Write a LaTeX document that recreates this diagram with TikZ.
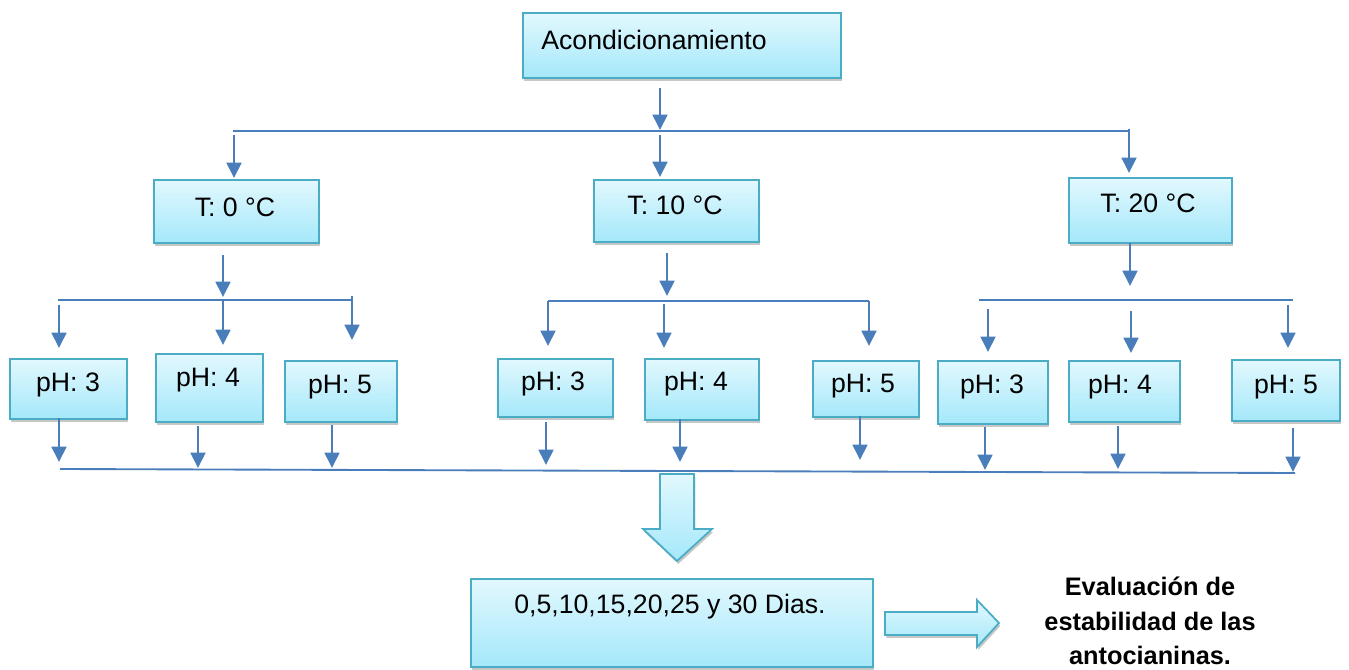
\documentclass[tikz,border=0pt]{standalone}
\usepackage{fontspec}
\setmainfont{Liberation Sans}
\usetikzlibrary{arrows.meta,shadows}
\definecolor{boxtop}{HTML}{E2F8FE}
\definecolor{boxbot}{HTML}{A4E8FA}
\definecolor{boxline}{HTML}{4BACC6}
\definecolor{arrblue}{HTML}{4A7EBB}
\tikzset{
  box/.style={draw=boxline, line width=1.5pt, top color=boxtop, bottom color=boxbot,
    anchor=north west, inner sep=0pt,
    drop shadow={shadow xshift=1pt, shadow yshift=-2.2pt, opacity=0.22, fill=black}},
  txt/.style={font=\fontsize{20}{24}\selectfont, inner sep=0pt, text=black},
  arr/.style={draw=arrblue, line width=2pt, -{Triangle[width=11pt,length=11.5pt]}},
  bus/.style={draw=arrblue, line width=1.4pt},
  bigarr/.style={draw=boxline, line width=1.3pt, top color=boxtop, bottom color=boxbot,
    line join=miter,
    drop shadow={shadow xshift=1pt, shadow yshift=-2.2pt, opacity=0.22, fill=black}},
  evaltxt/.style={font=\fontsize{19}{26}\selectfont\bfseries, align=center, inner sep=0pt}
}
\newcommand\mybx[8]{%
  \node[box, minimum width={(#4-#2)*0.75pt}, minimum height={(#5-#3)*0.75pt}] (#1) at (#2,#3) {};
  \node[txt] (#1t) at (#6,#7) {#8};}
\newcommand\myvarr[4]{%
  \coordinate (#1s) at (#2,#3);
  \coordinate (#1e) at (#2,#4);
  \draw[arr] (#1s) -- (#1e);}
\begin{document}
\begin{tikzpicture}[x=0.75pt,y=-0.75pt]
\fill[white] (0,0) rectangle (1349,670);
\useasboundingbox (0,0) rectangle (1349,670);

% top box
\mybx{A}{522}{12}{840}{77}{654}{40}{Acondicionamiento}
\myvarr{a0}{660}{88}{130}

% top bus
\coordinate (tb1) at (233,131);
\coordinate (tb2) at (1130,131);
\draw[bus] (tb1) -- (tb2);

% temperature boxes
\mybx{T0}{153}{179}{318}{242}{235}{207}{T: 0 °C}
\mybx{T10}{593}{179}{758}{241}{675}{205}{T: 10 °C}
\mybx{T20}{1068}{177}{1231}{242}{1148}{203}{T: 20 °C}

\myvarr{t0}{234}{135}{178}
\myvarr{t10}{660}{135}{177}
\myvarr{t20}{1129}{129}{173}

\myvarr{b0}{223}{255}{297}
\myvarr{b10}{667}{253}{296}
\myvarr{b20}{1130}{243}{286}

% pH buses
\coordinate (lb1) at (58,300); \coordinate (lb2) at (352,300);
\draw[bus] (lb1) -- (lb2);
\coordinate (mb1) at (548,301); \coordinate (mb2) at (869,301);
\draw[bus] (mb1) -- (mb2);
\coordinate (rb1) at (979,300); \coordinate (rb2) at (1293,300);
\draw[bus] (rb1) -- (rb2);

\myvarr{l3}{59}{305}{348}
\myvarr{l4}{223}{300}{345}
\myvarr{l5}{352}{296}{340}
\myvarr{m3}{548}{301}{346}
\myvarr{m4}{664}{304}{348}
\myvarr{m5}{869}{301}{346}
\myvarr{r3}{988}{309}{352}
\myvarr{r4}{1131}{311}{353}
\myvarr{r5}{1288}{305}{348}

% pH boxes
\mybx{L3}{9}{358}{126}{418}{68}{385}{pH: 3}
\mybx{L4}{155}{353}{262}{421}{208}{380}{pH: 4}
\mybx{L5}{284}{360}{396}{421}{340}{387}{pH: 5}
\mybx{M3}{497}{358}{612}{416}{553}{384}{pH: 3}
\mybx{M4}{644}{358}{758}{419}{696}{384}{pH: 4}
\mybx{M5}{812}{360}{918}{416}{863}{386}{pH: 5}
\mybx{R3}{937}{360}{1047}{423}{992}{387}{pH: 3}
\mybx{R4}{1068}{360}{1179}{421}{1120}{387}{pH: 4}
\mybx{R5}{1231}{359}{1339}{420}{1286}{387}{pH: 5}

% arrows down to bottom bus
\myvarr{d1}{59}{418}{462}
\myvarr{d2}{198}{426}{468}
\myvarr{d3}{332}{425}{468}
\myvarr{d4}{546}{422}{465}
\myvarr{d5}{680}{419}{462}
\myvarr{d6}{860}{416}{460}
\myvarr{d7}{985}{427}{470}
\myvarr{d8}{1118}{426}{469}
\myvarr{d9}{1293}{428}{472}

\coordinate (bb1) at (60,469); \coordinate (bb2) at (1295,473);
\draw[bus] (bb1) -- (bb2);

% big down arrow
\path[bigarr] (660,474) -- (694,474) -- (694,529) -- (712,529) -- (677,561)
  -- (643,529) -- (660,529) -- cycle;

% days box
\mybx{D}{470}{578}{872}{666}{670}{607}{0,5,10,15,20,25 y 30 Dias.}

% right arrow
\path[bigarr] (885,612) -- (977,612) -- (977,600) -- (999,623) -- (977,647)
  -- (977,635) -- (885,635) -- cycle;

\node[evaltxt] (ev) at (1150,621) {Evaluación de\\estabilidad de las\\antocianinas.};
\end{tikzpicture}
\end{document}
